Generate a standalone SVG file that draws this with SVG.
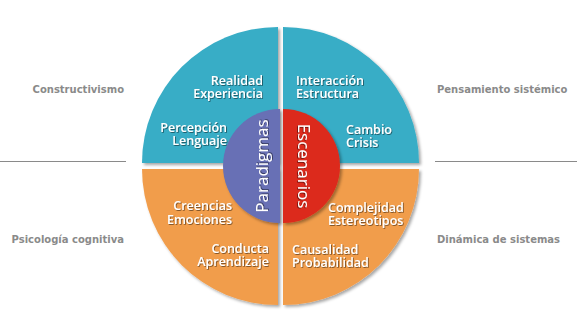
<svg xmlns="http://www.w3.org/2000/svg" width="577" height="321" viewBox="0 0 577 321">
<defs>
<filter id="sh" x="-10%" y="-10%" width="125%" height="125%">
<feDropShadow dx="2" dy="2" stdDeviation="1.5" flood-color="#000" flood-opacity="0.35"/>
</filter>
<filter id="tsh" x="-10%" y="-30%" width="130%" height="170%">
<feDropShadow dx="0.8" dy="0.8" stdDeviation="0.6" flood-color="#000" flood-opacity="0.55"/>
</filter>
</defs>
<style>
.teal{fill:#37adc6}
.orange{fill:#f19d4c}
.blue{fill:#6770b5}
.red{fill:#dc2a1b}
.lbl{font-family:"Open Sans","DejaVu Sans",sans-serif;font-weight:600;font-size:12.5px;fill:#fff}
.big{font-family:"Open Sans","DejaVu Sans",sans-serif;font-size:17px;fill:#fff;text-anchor:middle}
.side{font-family:"DejaVu Sans",sans-serif;font-weight:bold;font-size:10px;fill:#8a8a8a}
.e{text-anchor:end}
.sep{stroke:#8a8a8a;stroke-width:1;fill:none}
</style>
<rect width="577" height="321" fill="#fff"/>
<g id="connectors">
<line class="sep" x1="0" y1="161.5" x2="126" y2="161.5"/>
<line class="sep" x1="435" y1="161.5" x2="577" y2="161.5"/>
</g>
<g id="q-top-left">
<path class="teal" filter="url(#sh)" d="M278,163 L142,163 A136,136 0 0 1 278,27 Z"/>
<g filter="url(#tsh)">
<text class="lbl e" x="263" y="85">Realidad</text>
<text class="lbl e" x="263" y="98">Experiencia</text>
<text class="lbl e" x="227" y="132">Percepción</text>
<text class="lbl e" x="227" y="145">Lenguaje</text>
</g>
</g>
<g id="q-top-right">
<path class="teal" filter="url(#sh)" d="M283,163 L283,27 A136,136 0 0 1 419,163 Z"/>
<g filter="url(#tsh)">
<text class="lbl" x="296" y="85">Interacción</text>
<text class="lbl" x="296" y="98">Estructura</text>
<text class="lbl" x="346" y="134">Cambio</text>
<text class="lbl" x="346" y="147">Crisis</text>
</g>
</g>
<g id="q-bottom-left">
<path class="orange" filter="url(#sh)" d="M278,169 L278,305 A136,136 0 0 1 142,169 Z"/>
<g filter="url(#tsh)">
<text class="lbl e" x="232" y="210">Creencias</text>
<text class="lbl e" x="232" y="223.5">Emociones</text>
<text class="lbl e" x="269" y="253">Conducta</text>
<text class="lbl e" x="269" y="266">Aprendizaje</text>
</g>
</g>
<g id="q-bottom-right">
<path class="orange" filter="url(#sh)" d="M283,169 L419,169 A136,136 0 0 1 283,305 Z"/>
<g filter="url(#tsh)">
<text class="lbl" x="328" y="212">Complejidad</text>
<text class="lbl" x="328" y="225">Estereotipos</text>
<text class="lbl" x="292" y="254">Causalidad</text>
<text class="lbl" x="292" y="267">Probabilidad</text>
</g>
</g>
<g id="paradigmas">
<path class="blue" filter="url(#sh)" d="M280,109 A57,57 0 0 0 280,223 Z"/>
<text class="big" filter="url(#tsh)" transform="translate(268,166) rotate(-90)">Paradigmas</text>
</g>
<g id="escenarios">
<path class="red" filter="url(#sh)" d="M283,109 A57,57 0 0 1 283,223 Z"/>
<text class="big" filter="url(#tsh)" transform="translate(298,166) rotate(90)">Escenarios</text>
</g>
<g id="constructivismo"><text class="side e" x="124" y="93">Constructivismo</text></g>
<g id="pensamiento"><text class="side" x="437" y="93">Pensamiento sistémico</text></g>
<g id="psicologia"><text class="side e" x="124" y="243">Psicología cognitiva</text></g>
<g id="dinamica"><text class="side" x="437" y="243">Dinámica de sistemas</text></g>
</svg>
